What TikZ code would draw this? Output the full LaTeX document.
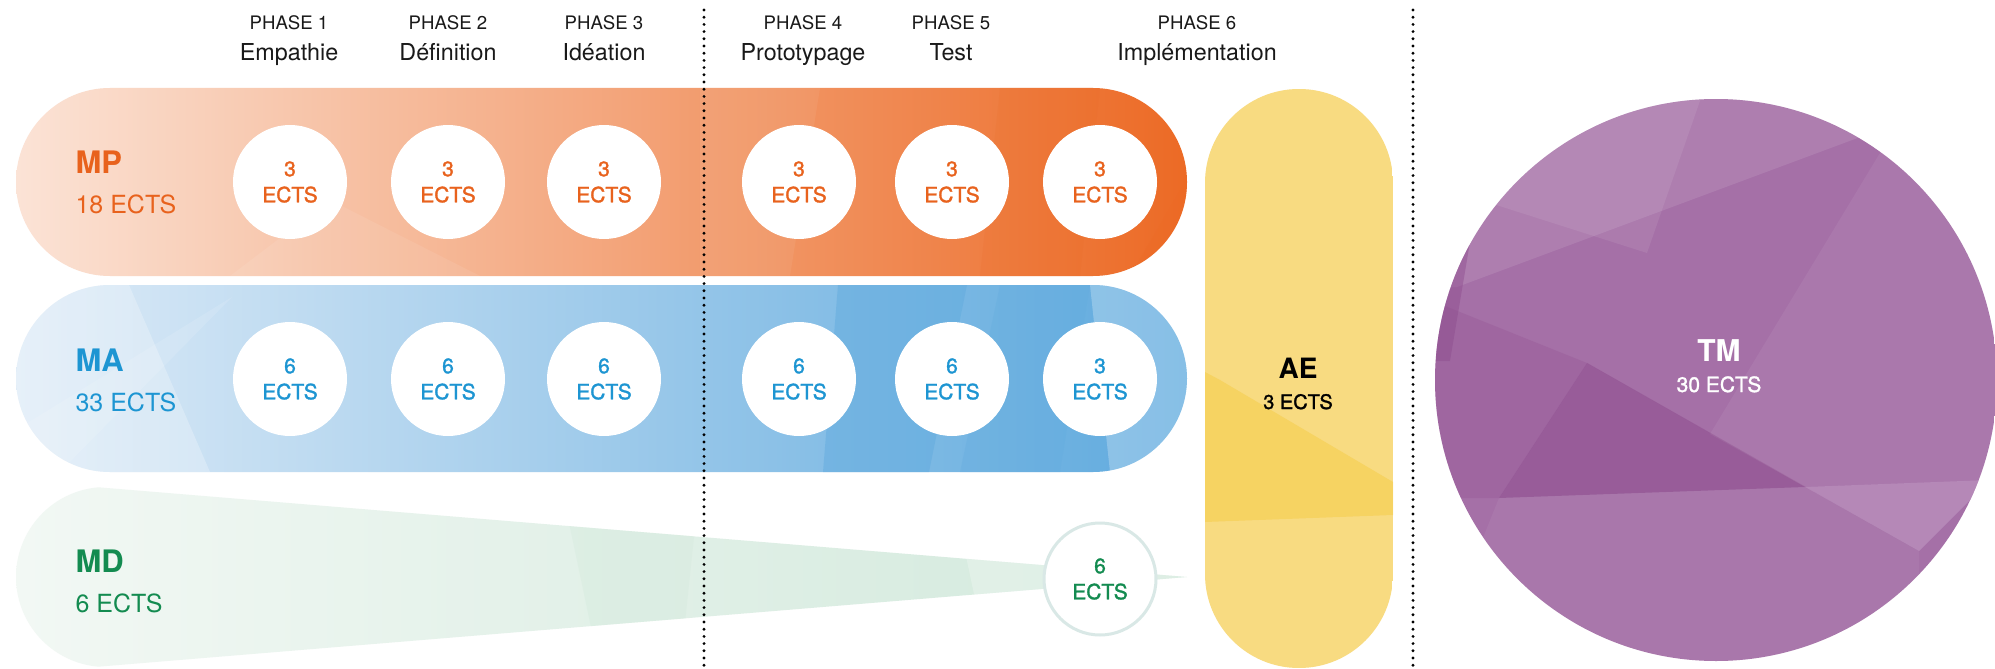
\documentclass[tikz,border=0pt]{standalone}
\usepackage{fontspec}
\setmainfont{TeX Gyre Heros}
\newfontfamily\medfont[FakeBold=1.4]{TeX Gyre Heros}
\definecolor{mpA}{HTML}{FBE3D6}
\definecolor{mpB}{HTML}{F3B088}
\definecolor{mpC}{HTML}{EC6A25}
\definecolor{mpT}{HTML}{E8621D}
\definecolor{maA}{HTML}{DEEBF7}
\definecolor{maB}{HTML}{AACDEC}
\definecolor{maC}{HTML}{5FAADE}
\definecolor{maT}{HTML}{1D95D2}
\definecolor{mdA}{HTML}{F2F8F4}
\definecolor{mdB}{HTML}{D2E9DC}
\definecolor{mdT}{HTML}{138B50}
\definecolor{mdO}{HTML}{D9E8E6}
\definecolor{aeA}{HTML}{F8D97A}
\definecolor{aeB}{HTML}{F5CC45}
\definecolor{tmA}{HTML}{A570A7}
\definecolor{tmD}{HTML}{8E4C8E}
\definecolor{tmL}{HTML}{BC93BF}
\begin{document}
\begin{tikzpicture}[x=1pt,y=-1pt,
  phase/.style={anchor=base, font=\fontsize{18.6}{20}\selectfont, text=black!90},
  phname/.style={anchor=base, font=\fontsize{23.3}{24}\selectfont, text=black!90},
  credit/.style={circle, fill=white, minimum size=114pt, inner sep=0pt, align=center, font=\medfont\fontsize{21}{26}\selectfont},
  tag/.style={anchor=base west, font=\bfseries\fontsize{31}{31}\selectfont},
  sub/.style={anchor=base west, font=\fontsize{25}{25}\selectfont},
  dots/.style={line width=3.2pt, line cap=round, dash pattern=on 0pt off 7.2pt, black}
]
\useasboundingbox (0,0) rectangle (1995,669);
\fill[white] (0,0) rectangle (1995,669);

% ---------- MP band
\begin{scope}
\clip[rounded corners=93.9pt] (16,88) rectangle (1187,276);
\shade[left color=mpA, middle color=mpB, right color=mpC] (16,88) rectangle (1187,276);
\fill[white, opacity=0.08] (230,276) -- (330,200) -- (480,276) -- cycle;
\fill[white, opacity=0.06] (700,88) -- (820,88) -- (790,276) -- (700,276) -- cycle;
\fill[mpC, opacity=0.15] (1000,88) -- (1100,88) -- (1080,276) -- (980,276) -- cycle;
\fill[mpC, opacity=0.3] (1187,88) -- (1187,276) -- (1130,276) -- (1240,88) -- cycle;
\end{scope}

% ---------- MA band
\begin{scope}
\clip[rounded corners=93.9pt] (16,285) rectangle (1187,472);
\shade[left color=maA, middle color=maB, right color=maC] (16,285) rectangle (1187,472);
\fill[white, opacity=0.25] (16,285) -- (129,285) -- (210,472) -- (16,472) -- cycle;
\fill[white, opacity=0.12] (232,297) -- (60,472) -- (16,430) -- cycle;
\fill[maC, opacity=0.45] (838,285) -- (967,285) -- (929,472) -- (823,472) -- cycle;
\fill[maC, opacity=0.25] (1000,285) -- (1090,285) -- (1060,472) -- (960,472) -- cycle;
\fill[white, opacity=0.25] (1090,285) -- (1187,285) -- (1187,472) -- (1110,472) -- cycle;
\end{scope}

% ---------- MD cone
\begin{scope}
\clip (1187,577) -- (98.5,487.3) arc[start angle=-94.78, end angle=-265.22, radius=90] -- cycle;
\shade[left color=mdA, right color=mdB] (16,480) rectangle (1187,670);
\fill[white, opacity=0.25] (950,480) -- (1187,480) -- (1187,670) -- (990,670) -- cycle;
\fill[mdB, opacity=0.35] (560,480) -- (700,480) -- (680,670) -- (600,670) -- cycle;
\end{scope}

% ---------- AE pill
\begin{scope}
\clip[rounded corners=93.9pt] (1205,89) rectangle (1393,668);
\fill[aeA] (1205,89) rectangle (1393,668);
\fill[white, opacity=0.06] (1205,89) -- (1393,89) -- (1393,482) -- (1220,380) -- (1205,372) -- cycle;
\fill[aeB, opacity=0.45] (1205,372) -- (1220,380) -- (1393,482) -- (1393,515) -- (1205,522) -- cycle;
\fill[white, opacity=0.06] (1205,522) -- (1393,515) -- (1393,668) -- (1205,668) -- cycle;
\end{scope}

% ---------- TM circle
\begin{scope}
\clip (1716,380) circle [radius=281];
\fill[tmA] (1430,90) rectangle (2000,670);
\fill[white, opacity=0.10] (1430,90) -- (1871,90) -- (1871,133) -- (1457,287) -- (1430,287) -- cycle;
\fill[white, opacity=0.08] (1490,203) -- (1647,253) -- (1702,95) -- (1500,95) -- cycle;
\fill[tmD, opacity=0.45] (1436,236) -- (1471,236) -- (1450,361) -- (1436,361) -- cycle;
\fill[tmD, opacity=0.25] (1430,300) -- (1587,363) -- (1499,498) -- (1430,498) -- cycle;
\fill[tmD, opacity=0.55] (1587,363) -- (1499,498) -- (1805,487) -- cycle;
\fill[tmD, opacity=0.35] (1587,363) -- (1919,551) -- (1805,487) -- cycle;
\fill[white, opacity=0.06] (1886,143) -- (2000,143) -- (2000,480) -- (1805,487) -- (1710,434) -- cycle;
\fill[tmL, opacity=0.7] (1805,487) -- (1990,480) -- (1919,551) -- cycle;
\fill[white, opacity=0.05] (1499,498) -- (1805,487) -- (1919,551) -- (1919,670) -- (1430,670) -- cycle;
\end{scope}

% ---------- dotted separators
\coordinate (d1t) at (704,10);
\coordinate (d1b) at (704,669);
\coordinate (d2t) at (1413,10);
\coordinate (d2b) at (1413,669);
\draw[dots] (d1t) -- (d1b);
\draw[dots] (d2t) -- (d2b);

% ---------- phase headers
\node[phase] (p1) at (289,30) {PHASE 1};
\node[phname] (n1) at (289,60) {Empathie};
\node[phase] (p2) at (448,30) {PHASE 2};
\node[phname] (n2) at (448,60) {Définition};
\node[phase] (p3) at (604,30) {PHASE 3};
\node[phname] (n3) at (604,60) {Idéation};
\node[phase] (p4) at (803,30) {PHASE 4};
\node[phname] (n4) at (803,60) {Prototypage};
\node[phase] (p5) at (951,30) {PHASE 5};
\node[phname] (n5) at (951,60) {Test};
\node[phase] (p6) at (1197,30) {PHASE 6};
\node[phname] (n6) at (1197,60) {Implémentation};

% ---------- MP
\node[tag, text=mpT] (mp) at (72,173) {MP};
\node[sub, text=mpT] (mpe) at (72,213) {18 ECTS};
\foreach \x [count=\i] in {290,448,604,799,952,1100}
  \node[credit, text=mpT] (mp\i) at (\x,182) {3\\ECTS};

% ---------- MA
\node[tag, text=maT] (ma) at (72,371) {MA};
\node[sub, text=maT] (mae) at (72,411) {33 ECTS};
\foreach \x/\v [count=\i] in {290/6,448/6,604/6,799/6,952/6,1100/3}
  \node[credit, text=maT] (ma\i) at (\x,379) {\v\\ECTS};

% ---------- MD
\node[tag, text=mdT] (md) at (72,572) {MD};
\node[sub, text=mdT] (mde) at (72,612) {6 ECTS};
\node[credit, text=mdT, draw=mdO, line width=3pt, minimum size=112pt] (md1) at (1100,579) {6\\ECTS};

% ---------- AE
\node[anchor=base, font=\bfseries\fontsize{28}{28}\selectfont] (ae) at (1298,378) {AE};
\node[anchor=base, font=\medfont\fontsize{20}{20}\selectfont] (aee) at (1298,409) {3 ECTS};

% ---------- TM
\node[anchor=base, text=white, font=\bfseries\fontsize{30}{30}\selectfont] (tm) at (1719,361) {TM};
\node[anchor=base, text=white, font=\medfont\fontsize{21}{21}\selectfont] (tme) at (1719,392) {30 ECTS};
\end{tikzpicture}
\end{document}
